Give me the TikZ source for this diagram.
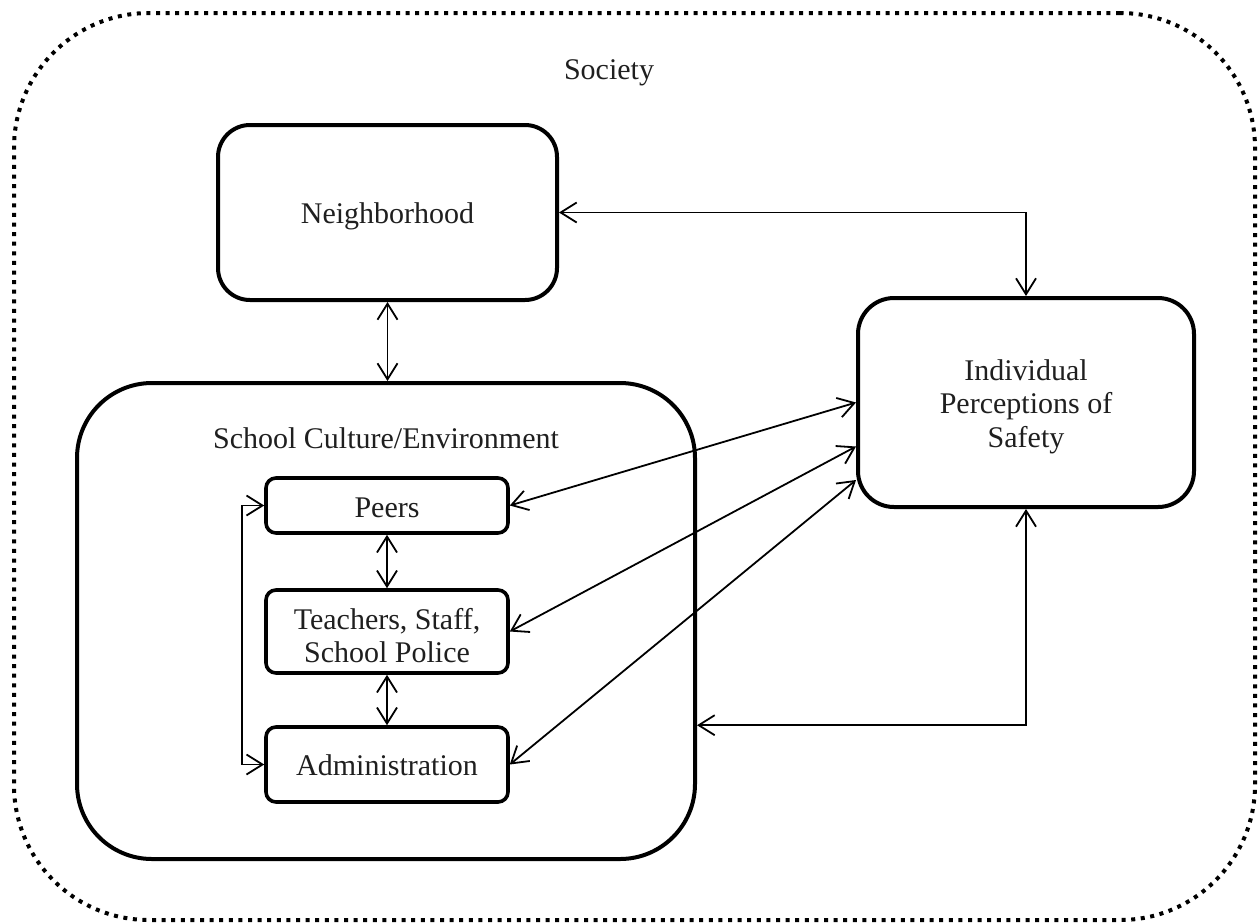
\documentclass[tikz,border=0pt]{standalone}
\usepackage{fontspec}
\setmainfont{Liberation Serif}
\usetikzlibrary{arrows.meta}
\begin{document}
\begin{tikzpicture}[x=0.5pt,y=-0.5pt,
  txt/.style={font=\fontsize{15}{16.75}\selectfont, text=black!88, align=center, inner sep=0pt},
  bigbox/.style={draw, line width=2pt, rounded corners=#1, inner sep=0pt},
  smallbox/.style={draw, line width=1.8pt, rounded corners=5pt, inner sep=0pt, minimum width=121pt},
  conn/.style={line width=0.9pt, {Straight Barb[length=8pt,width=10pt]}-{Straight Barb[length=8pt,width=10pt]}}
]
\useasboundingbox (0,0) rectangle (1258,922);
% outer dotted society border
\node[draw, line width=2pt, dash pattern=on 2pt off 2.8pt, rounded corners=67.5pt,
  minimum width=620.5pt, minimum height=453.5pt, inner sep=0pt] (society) at (634.5,466.5) {};
\node[txt, anchor=base] (societylbl) at (609,79) {Society};
% boxes
\node[bigbox=16pt, minimum width=169.5pt, minimum height=87.5pt] (neigh) at (387.5,212.5) {};
\node[txt] (neighlbl) at (387.5,216.5) {Neighborhood};
\node[bigbox=37.5pt, minimum width=309pt, minimum height=238pt] (school) at (386,621) {};
\node[txt, anchor=base] (schoollbl) at (386,448) {School Culture/Environment};
\node[smallbox, minimum height=27.5pt] (peers) at (387,505.5) {};
\node[txt] (peerslbl) at (387,507.5) {Peers};
\node[smallbox, minimum height=41.5pt] (teach) at (387,631.5) {};
\node[txt] (teachlbl) at (387,635.5) {Teachers, Staff,\\School Police};
\node[smallbox, minimum height=37.5pt] (admin) at (387,764.5) {};
\node[txt] (adminlbl) at (387,765.5) {Administration};
\node[bigbox=18pt, minimum width=168pt, minimum height=104.5pt] (indiv) at (1026,402.5) {};
\node[txt] (indivlbl) at (1026,406.5) {Individual\\Perceptions of\\Safety};
% connectors
\draw[conn] (neigh.east) -| (indiv.north);
\draw[conn] (neigh.south) -- (neigh.south |- school.north);
\draw[conn] (indiv.south) |- (school.east |- admin.north);
\draw[conn] (peers.east) -- (indiv.west);
\draw[conn] (teach.east) -- ([yshift=-22pt]indiv.west);
\draw[conn] (admin.east) -- ([yshift=-38.75pt]indiv.west);
\draw[conn] (peers.south) -- (teach.north);
\draw[conn] (teach.south) -- (admin.north);
\draw[conn] (peers.west) -- ++(-22,0) |- (admin.west);
\end{tikzpicture}
\end{document}
